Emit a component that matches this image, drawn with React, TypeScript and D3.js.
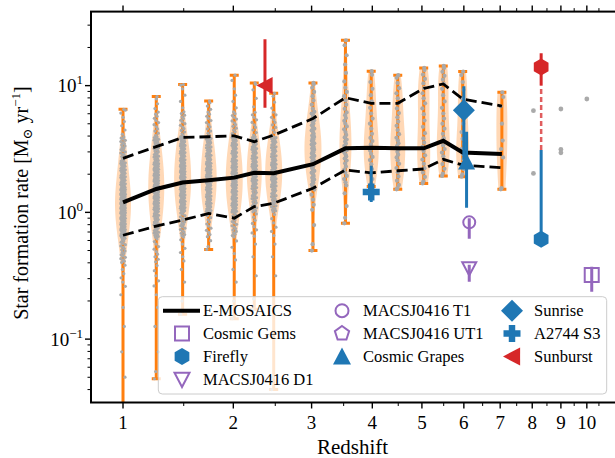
import React from 'react';
import * as d3 from 'd3';

// E-MOSAICS snapshots
const snapZ = [1.0, 1.26, 1.49, 1.74, 2.01, 2.24, 2.48, 3.02, 3.53, 3.98, 4.49, 5.04, 5.49, 5.97, 7.05];
const sfrMedian = [1.2, 1.53, 1.72, 1.79, 1.88, 2.05, 2.04, 2.4, 3.2, 3.23, 3.2, 3.2, 3.67, 2.97, 2.89];
const sfrP84 = [2.67, 3.3, 3.9, 3.95, 4.02, 3.61, 4.07, 5.5, 8.03, 7.25, 7.25, 9.5, 10.3, 7.84, 6.9];
const sfrP16 = [0.66, 0.78, 0.87, 0.98, 0.9, 1.11, 1.18, 1.55, 2.16, 2.05, 2.13, 2.2, 2.62, 2.36, 2.25];
const sfrMax = [6.5, 8.2, 10.2, 7.55, 12.1, 10.5, 8.7, 10.5, 22.8, 13.0, 12.1, 13.8, 14.3, 12.9, 8.85];
const sfrMin = [0.02, 0.0487, 0.157, 0.51, 0.145, 0.172, 0.04, 0.5, 0.82, 1.6, 1.52, 1.69, 1.94, 1.91, 1.52];

// cluster counts per 0.2 dex bin of log SFR, bins start at -1.8
const binStart = -1.8;
const binWidth = 0.2;
const binCounts = [
  [1, 0, 1, 1, 1, 2, 6, 20, 45, 55, 36, 22, 6, 1, 0, 0],
  [0, 0, 1, 1, 1, 2, 5, 10, 30, 45, 45, 30, 12, 3, 0, 0],
  [0, 0, 0, 0, 0, 1, 2, 6, 20, 40, 45, 35, 15, 4, 1, 0],
  [0, 0, 0, 0, 0, 0, 0, 2, 12, 35, 40, 30, 12, 3, 0, 0],
  [0, 0, 0, 0, 0, 1, 2, 4, 18, 38, 42, 32, 14, 4, 1, 0],
  [0, 0, 0, 0, 0, 1, 1, 2, 8, 25, 35, 28, 10, 3, 1, 0],
  [0, 0, 1, 0, 0, 0, 1, 2, 6, 25, 35, 28, 10, 3, 0, 0],
  [0, 0, 0, 0, 0, 0, 0, 1, 1, 5, 15, 20, 15, 6, 1, 0],
  [0, 0, 0, 0, 0, 0, 0, 0, 1, 2, 8, 12, 9, 6, 3, 2],
  [0, 0, 0, 0, 0, 0, 0, 0, 0, 0, 5, 8, 5, 4, 2, 0],
  [0, 0, 0, 0, 0, 0, 0, 0, 0, 1, 6, 9, 6, 5, 2, 0],
  [0, 0, 0, 0, 0, 0, 0, 0, 0, 0, 5, 6, 4, 5, 4, 0],
  [0, 0, 0, 0, 0, 0, 0, 0, 0, 0, 3, 7, 5, 4, 5, 0],
  [0, 0, 0, 0, 0, 0, 0, 0, 0, 0, 3, 5, 3, 3, 2, 0],
  [0, 0, 0, 0, 0, 0, 0, 0, 0, 1, 0, 3, 1, 2, 0, 0],
];
// violin full widths in px
const violinWidth = [16, 16, 17, 16, 17, 15, 17, 17, 12, 15, 15, 13, 13, 13, 11];

// lone high-z E-MOSAICS galaxies
const loneZ = [8.04, 8.04, 9.0, 9.0, 9.0, 10.0];
const loneSfr = [6.34, 2.03, 6.54, 3.14, 2.95, 7.84];

// observed lensed systems
const cosmicGems = { z: 10.2, sfr: 0.32, lo: 0.236, hi: 0.372 };
const firefly = { z: 8.3, sfr: 0.615, lo: 0.615, hi: 3.1 };
const fireflyTotal = { z: 8.3, sfr: 14, lo: 10, hi: 18 };
const macsD1 = { z: 6.14, sfr: 0.361, lo: 0.283, hi: 0.387 };
const macsT1 = { z: 6.14, sfr: 0.834, lo: 0.62, hi: 0.9 };
const cosmicGrapes = { z: 6.07, sfr: 2.5, lo: 1.09, hi: 4.33 };
const sunrise = { z: 6.0, sfr: 6.4, lo: 2.6, hi: 9.9 };
const a2744s3 = { z: 3.98, sfr: 1.45, lo: 1.21, hi: 2.33 };
const sunburst = { z: 2.37, sfr: 10, lo: 6.7, hi: 23.2 };

const xTicks = [1, 2, 3, 4, 5, 6, 7, 8, 9, 10];
const xMinorTicks = [1.5, 2.5, 3.5, 4.5, 5.5, 6.5, 7.5, 8.5, 9.5, 10.5];
const yTickExp = [-1, 0, 1];

const legendNames = [
  'E-MOSAICS', 'Cosmic Gems', 'Firefly', 'MACSJ0416 D1',
  'MACSJ0416 T1', 'MACSJ0416 UT1', 'Cosmic Grapes',
  'Sunrise', 'A2744 S3', 'Sunburst',
];

const BLUE = '#1f77b4';
const PURPLE = '#9467bd';
const RED = '#d62728';
const ORANGE = '#ff7f0e';
const GREY = '#aaaaaa';
const FONT = '"Liberation Serif", "DejaVu Serif", serif';

const left = 91, right = 617, top = 11.6, bottom = 402.5;
const x = d3.scaleLog().domain([1.778, 12.29]).range([left, right]);
const xz = (z: number) => x(1 + z);
const y = d3.scaleLog().domain([Math.pow(10, -1.5), Math.pow(10, 1.584)]).range([bottom, top]);

const poly = (pts: number[][]) => 'M' + pts.map(p => p.join(',')).join('L') + 'Z';
const regular = (n: number, r: number, rot: number) =>
  poly(d3.range(n).map(k => {
    const a = (rot + (360 / n) * k) * Math.PI / 180;
    return [r * Math.cos(a), r * Math.sin(a)];
  }));

const markerPath = (type: string, s: number) => {
  switch (type) {
    case 'square': return poly([[-s, -s], [s, -s], [s, s], [-s, s]]);
    case 'hexagon': return regular(6, s, -90);
    case 'pentagon': return regular(5, s, -90);
    case 'triDown': return poly([[0, s], [-s, -s * 0.9], [s, -s * 0.9]]);
    case 'triUp': return poly([[0, -s], [-s, s * 0.9], [s, s * 0.9]]);
    case 'triLeft': return poly([[-s, 0], [s * 0.9, -s], [s * 0.9, s]]);
    case 'diamond': return poly([[0, -s], [s, 0], [0, s], [-s, 0]]);
    case 'plus': {
      const a = s * 0.38;
      return poly([[-a, -s], [a, -s], [a, -a], [s, -a], [s, a], [a, a], [a, s], [-a, s], [-a, a], [-s, a], [-s, -a], [-a, -a]]);
    }
    default: return '';
  }
};

const Marker = ({ type, cx, cy, s, color, open }: any) => {
  if (type === 'circle') {
    return <circle cx={cx} cy={cy} r={s} fill={open ? 'none' : color} stroke={color} strokeWidth={2} />;
  }
  return (
    <path d={markerPath(type, s)} transform={`translate(${cx},${cy})`}
      fill={open ? 'none' : color} stroke={color} strokeWidth={open ? 2 : 0} strokeLinejoin="miter" />
  );
};

// pseudo-sample positions (log SFR) from the bin counts, clipped to the extrema
const samplesFor = (i: number) => {
  const lmin = Math.log10(sfrMin[i]);
  const lmax = Math.log10(sfrMax[i]);
  const out: number[] = [lmin, lmax];
  binCounts[i].forEach((c, b) => {
    if (!c) return;
    const lo = Math.max(binStart + b * binWidth, lmin);
    const hi = Math.min(binStart + (b + 1) * binWidth, lmax);
    if (hi <= lo) return;
    for (let k = 0; k < c; k++) out.push(lo + ((k + 0.5) / c) * (hi - lo));
  });
  return out;
};

const violinArea = (vals: number[], i: number) => {
  const lmin = Math.log10(sfrMin[i]);
  const lmax = Math.log10(sfrMax[i]);
  const n = vals.length;
  const sd = d3.deviation(vals) || 0.2;
  const bw = sd * Math.pow(n, -0.2);
  const grid = d3.range(0, 101).map(k => lmin + ((lmax - lmin) * k) / 100);
  const dens = grid.map(g => d3.sum(vals, v => Math.exp(-0.5 * ((g - v) / bw) ** 2)));
  const maxD = d3.max(dens) || 1;
  const cx = xz(snapZ[i]);
  const hw = violinWidth[i] / 2;
  const pts = grid.map((g, k) => ({ g, d: dens[k] / maxD }));
  return d3.area<any>()
    .y(d => y(Math.pow(10, d.g)))
    .x0(d => cx - hw * d.d)
    .x1(d => cx + hw * d.d)
    .curve(d3.curveBasis)(pts) || '';
};

const jitter = [-1.9, 0.8, -0.6, 2.0, -1.3, 1.3, 0.1, -2.2, 2.3, -0.2];

const ErrBar = ({ o, color }: any) => (
  <line x1={xz(o.z)} x2={xz(o.z)} y1={y(o.lo)} y2={y(o.hi)} stroke={color} strokeWidth={3} />
);

export default function App() {
  const samples = snapZ.map((_, i) => samplesFor(i));

  const lineGen = (vals: number[]) =>
    d3.line<number>().x((_, i) => xz(snapZ[i])).y(v => y(v))(vals) || '';

  const yMinor: number[] = [];
  [-2, -1, 0, 1].forEach(e => {
    for (let m = 2; m <= 9; m++) {
      const v = m * Math.pow(10, e);
      if (v > y.domain()[0] && v < y.domain()[1]) yMinor.push(v);
    }
  });

  // legend layout
  const legendCols = [[0, 1, 2, 3], [4, 5, 6], [7, 8, 9]];
  const colMarkerX = [182, 342, 512];
  const colTextX = [203, 363, 534];
  const rowY = [310.7, 333.5, 356.5, 379.5];
  const legendMarker = (idx: number, cx: number, cy: number) => {
    switch (idx) {
      case 0: return <line x1={cx - 19} x2={cx + 18} y1={cy} y2={cy} stroke="#000" strokeWidth={4} />;
      case 1: return <Marker type="square" cx={cx} cy={cy} s={7} color={PURPLE} open />;
      case 2: return <Marker type="hexagon" cx={cx} cy={cy} s={8.5} color={BLUE} />;
      case 3: return <Marker type="triDown" cx={cx} cy={cy} s={7.5} color={PURPLE} open />;
      case 4: return <Marker type="circle" cx={cx} cy={cy} s={6.5} color={PURPLE} open />;
      case 5: return <Marker type="pentagon" cx={cx} cy={cy} s={7.5} color={PURPLE} open />;
      case 6: return <Marker type="triUp" cx={cx} cy={cy} s={9} color={BLUE} />;
      case 7: return <Marker type="diamond" cx={cx} cy={cy} s={11} color={BLUE} />;
      case 8: return <Marker type="plus" cx={cx} cy={cy} s={8.5} color={BLUE} />;
      case 9: return <Marker type="triLeft" cx={cx} cy={cy} s={9} color={RED} />;
      default: return null;
    }
  };

  return (
    <div style={{ position: 'absolute', left: 0, top: 0 }}>
      <svg width={615} height={458} style={{ display: 'block', background: '#fff' }} fontFamily={FONT}>
        <defs>
          <clipPath id="plot"><rect x={left} y={top} width={right - left} height={bottom - top} /></clipPath>
        </defs>

        <g clipPath="url(#plot)">
          {/* violins */}
          {snapZ.map((z, i) => (
            <path key={'v' + i} d={violinArea(samples[i], i)} fill={ORANGE} fillOpacity={0.3} />
          ))}
          {snapZ.map((z, i) => {
            const cx = xz(z);
            return (
              <g key={'b' + i} stroke={ORANGE} strokeWidth={3}>
                <line x1={cx} x2={cx} y1={y(sfrMin[i])} y2={y(sfrMax[i])} />
                <line x1={cx - 4.5} x2={cx + 4.5} y1={y(sfrMin[i])} y2={y(sfrMin[i])} />
                <line x1={cx - 4.5} x2={cx + 4.5} y1={y(sfrMax[i])} y2={y(sfrMax[i])} />
              </g>
            );
          })}
          {/* cluster points */}
          {snapZ.map((z, i) => {
            const cx = xz(z);
            const dense = i < 7;
            return samples[i].map((v, k) => (
              <circle key={`p${i}-${k}`} cx={cx + jitter[k % jitter.length] * (dense ? 1 : 0.6)}
                cy={y(Math.pow(10, v))} r={dense ? 1.6 : 2.1} fill={GREY} />
            ));
          })}
          {loneZ.map((z, k) => (
            <circle key={'l' + k} cx={xz(z)} cy={y(loneSfr[k])} r={2.4} fill={GREY} />
          ))}

          {/* median and percentiles */}
          <path d={lineGen(sfrP84)} fill="none" stroke="#000" strokeWidth={2.8} strokeDasharray="11,5" />
          <path d={lineGen(sfrP16)} fill="none" stroke="#000" strokeWidth={2.8} strokeDasharray="11,5" />
          <path d={lineGen(sfrMedian)} fill="none" stroke="#000" strokeWidth={4} />

          {/* observations */}
          <ErrBar o={sunburst} color={RED} />
          <Marker type="triLeft" cx={xz(sunburst.z)} cy={y(sunburst.sfr)} s={8.5} color={RED} />

          <ErrBar o={a2744s3} color={BLUE} />
          <Marker type="plus" cx={xz(a2744s3.z)} cy={y(a2744s3.sfr)} s={8.5} color={BLUE} />

          <ErrBar o={sunrise} color={BLUE} />
          <Marker type="diamond" cx={xz(sunrise.z)} cy={y(sunrise.sfr)} s={11} color={BLUE} />

          <ErrBar o={cosmicGrapes} color={BLUE} />
          <Marker type="triUp" cx={xz(cosmicGrapes.z)} cy={y(cosmicGrapes.sfr)} s={8.5} color={BLUE} />

          <ErrBar o={macsT1} color={PURPLE} />
          <Marker type="circle" cx={xz(macsT1.z)} cy={y(macsT1.sfr)} s={6} color={PURPLE} open />

          <ErrBar o={macsD1} color={PURPLE} />
          <Marker type="triDown" cx={xz(macsD1.z)} cy={y(macsD1.sfr)} s={7} color={PURPLE} open />

          <ErrBar o={cosmicGems} color={PURPLE} />
          <Marker type="square" cx={xz(cosmicGems.z)} cy={y(cosmicGems.sfr)} s={7} color={PURPLE} open />

          <line x1={xz(firefly.z)} x2={xz(firefly.z)} y1={y(firefly.hi)} y2={y(fireflyTotal.lo)}
            stroke={RED} strokeOpacity={0.75} strokeWidth={2.5} strokeDasharray="5,3" />
          <ErrBar o={fireflyTotal} color={RED} />
          <Marker type="hexagon" cx={xz(fireflyTotal.z)} cy={y(fireflyTotal.sfr)} s={8.5} color={RED} />
          <ErrBar o={firefly} color={BLUE} />
          <Marker type="hexagon" cx={xz(firefly.z)} cy={y(firefly.sfr)} s={8.5} color={BLUE} />
        </g>

        {/* frame */}
        <rect x={left} y={top} width={right - left} height={bottom - top} fill="none" stroke="#000" strokeWidth={2} />

        {/* x ticks (bottom and top) */}
        {xTicks.map(t => (
          <g key={'xt' + t}>
            <line x1={xz(t)} x2={xz(t)} y1={bottom} y2={bottom + 6} stroke="#000" strokeWidth={1.4} />
            <line x1={xz(t)} x2={xz(t)} y1={top} y2={top - 6} stroke="#000" strokeWidth={1.4} />
            <text x={xz(t)} y={429} textAnchor="middle" fontSize={19}>{t}</text>
          </g>
        ))}
        {xMinorTicks.map(t => (
          <g key={'xm' + t} stroke="#000" strokeWidth={1}>
            <line x1={xz(t)} x2={xz(t)} y1={bottom} y2={bottom + 3.5} />
            <line x1={xz(t)} x2={xz(t)} y1={top} y2={top - 3.5} />
          </g>
        ))}

        {/* y ticks */}
        {yTickExp.map(e => (
          <g key={'yt' + e}>
            <line x1={left} x2={left - 6} y1={y(Math.pow(10, e))} y2={y(Math.pow(10, e))} stroke="#000" strokeWidth={1.4} />
            <text x={83} y={y(Math.pow(10, e)) + 6.5} textAnchor="end" fontSize={19}>
              10<tspan dy={-8} fontSize={13}>{e < 0 ? '\u2212' + Math.abs(e) : e}</tspan>
            </text>
          </g>
        ))}
        {yMinor.map(v => (
          <line key={'ym' + v} x1={left} x2={left - 3.5} y1={y(v)} y2={y(v)} stroke="#000" strokeWidth={1} />
        ))}

        {/* axis labels */}
        <text x={352.5} y={454} textAnchor="middle" fontSize={21}>Redshift</text>
        <text transform={`translate(28,${(top + bottom) / 2 - 4}) rotate(-90)`} textAnchor="middle" fontSize={20}>
          Star formation rate [M<tspan dy={4} fontSize={13}>{'\u2299'}</tspan>
          <tspan dy={-4}> yr</tspan><tspan dy={-8} fontSize={13}>{'\u22121'}</tspan><tspan dy={8}>]</tspan>
        </text>

        {/* legend */}
        <rect x={158.3} y={296.7} width={448.4} height={97.3} rx={4} fill="#fff" fillOpacity={0.8} stroke="#cccccc" strokeWidth={1} />
        {legendCols.map((col, c) => col.map((idx, r) => (
          <g key={'lg' + idx}>
            {legendMarker(idx, colMarkerX[c], rowY[r])}
            <text x={colTextX[c]} y={rowY[r] + 5.5} fontSize={16.5}>{legendNames[idx]}</text>
          </g>
        )))}
      </svg>
    </div>
  );
}
